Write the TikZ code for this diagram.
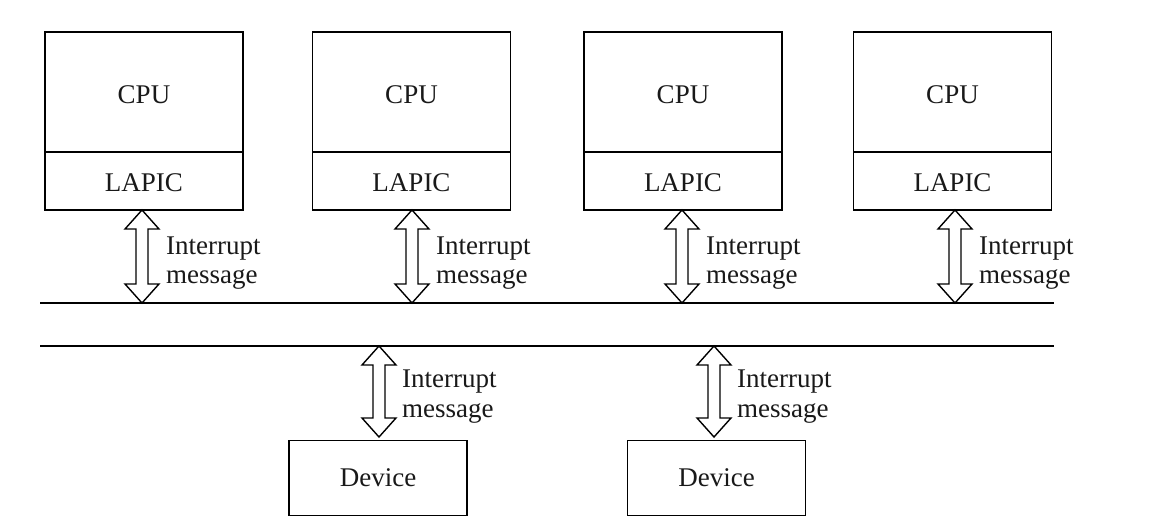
\documentclass[tikz,border=0pt]{standalone}
\usepackage{fontspec}
\setmainfont{Liberation Serif}
\usetikzlibrary{calc}
\newcommand{\dblarr}[2]{%
  \draw[arrbody] let \p1=(#1), \p2=(#2) in
    (\x1,\y1) -- (\x1+17pt,\y1-19pt) -- (\x1+6pt,\y1-19pt) -- (\x1+6pt,\y2+19pt)
    -- (\x1+17pt,\y2+19pt) -- (\x1,\y2) -- (\x1-17pt,\y2+19pt) -- (\x1-6pt,\y2+19pt)
    -- (\x1-6pt,\y1-19pt) -- (\x1-17pt,\y1-19pt) -- cycle;}
\begin{document}
\begin{tikzpicture}[x=1pt,y=-1pt,
  every node/.style={font=\fontsize{27}{30}\selectfont, text=black!90},
  cpubox/.style={draw, line width=1.4pt, minimum width=198pt, minimum height=120pt, inner sep=0pt, text height=24pt, text depth=0pt},
  lapicbox/.style={draw, line width=1.4pt, minimum width=198pt, minimum height=58pt, inner sep=0pt, text height=21pt, text depth=0pt},
  devbox/.style={draw, line width=1.4pt, minimum width=178pt, minimum height=75pt, inner sep=0pt},
  arrbody/.style={draw, line width=1.4pt, line join=miter},
  bus/.style={line width=1.4pt},
  lbl/.style={anchor=base west, inner sep=0pt}]
\useasboundingbox (0,0) rectangle (1152,532);

% CPU + LAPIC boxes
\foreach \i/\cx in {1/144, 2/411.5, 3/683, 4/952.5} {
  \node[cpubox] (cpu\i) at (\cx,92) {CPU};
  \node[lapicbox] (lap\i) at (\cx,181) {LAPIC};
}

% buses
\coordinate (busAL) at (40,303);
\coordinate (busAR) at (1054,303);
\coordinate (busBL) at (40,346);
\coordinate (busBR) at (1054,346);
\draw[bus] (busAL) -- (busAR);
\draw[bus] (busBL) -- (busBR);

% upper arrows
\foreach \i/\ax in {1/142, 2/412, 3/682, 4/955} {
  \coordinate (ta\i) at (\ax,210);
  \coordinate (tb\i) at (\ax,303);
  \dblarr{ta\i}{tb\i}
  \node[lbl] (il\i) at (\ax+24,254) {Interrupt};
  \node[lbl] (ml\i) at (\ax+24,283) {message};
}

% devices
\node[devbox] (dev1) at (378,478) {Device};
\node[devbox] (dev2) at (716.5,478) {Device};

% lower arrows
\foreach \i/\ax in {1/379, 2/714} {
  \coordinate (da\i) at (\ax,346);
  \coordinate (db\i) at (\ax,437);
  \dblarr{da\i}{db\i}
  \node[lbl] (dil\i) at (\ax+23,387) {Interrupt};
  \node[lbl] (dml\i) at (\ax+23,417) {message};
}
\end{tikzpicture}
\end{document}
